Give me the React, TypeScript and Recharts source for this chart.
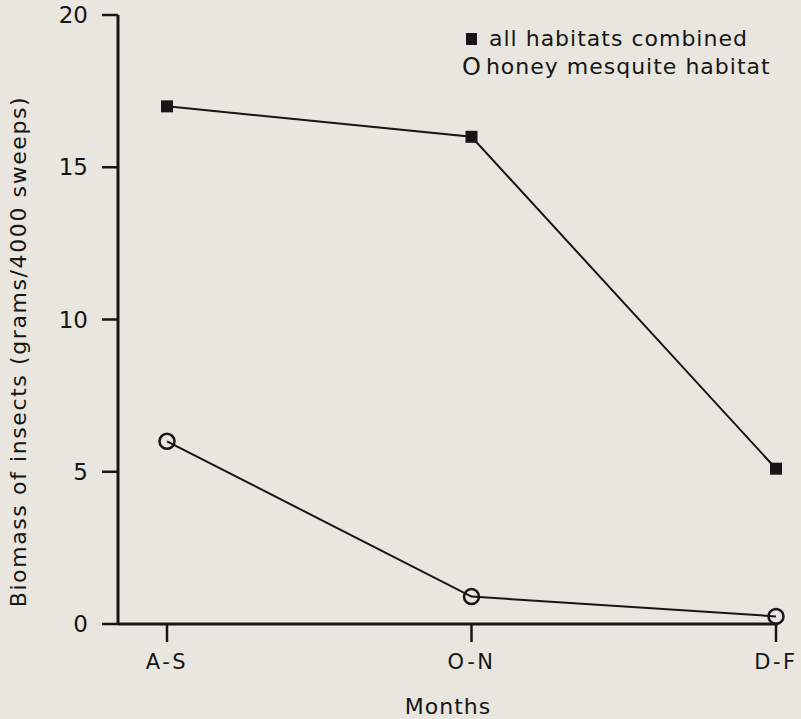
import React from 'react';
import {
  LineChart,
  Line,
  XAxis,
  YAxis,
  Label,
} from 'recharts';

const months = ['A-S', 'O-N', 'D-F'];
const allHabitats = [17, 16, 5.1];
const honeyMesquite = [6, 0.9, 0.25];
const yTicks = [0, 5, 10, 15, 20];

const data = months.map((m, i) => ({
  month: m,
  all: allHabitats[i],
  honey: honeyMesquite[i],
}));

const INK = '#161616';
const BG = '#e9e6e0';
const FONT = '"DejaVu Sans", sans-serif';

const SquareDot = (props: any) => {
  const { cx, cy } = props;
  if (cx == null || cy == null) return null;
  return <rect x={cx - 6} y={cy - 6} width={12} height={12} fill={INK} />;
};

const CircleDot = (props: any) => {
  const { cx, cy } = props;
  if (cx == null || cy == null) return null;
  return <circle cx={cx} cy={cy} r={7.5} fill="none" stroke={INK} strokeWidth={2.5} />;
};

// rotated y label, a bit below the middle of the plot like the original
const YLabel = (props: any) => {
  const { viewBox } = props;
  const x = 18;
  const y = viewBox.y + viewBox.height / 2 + 32;
  return (
    <text
      x={x}
      y={y}
      transform={`rotate(-90 ${x} ${y})`}
      textAnchor="middle"
      dominantBaseline="central"
      style={{ fill: INK, fontSize: 22, fontFamily: FONT, letterSpacing: 1.6 }}
    >
      Biomass of insects (grams/4000 sweeps)
    </text>
  );
};

const LegendBox = () => (
  <div
    style={{
      position: 'absolute',
      left: 462,
      top: 25,
      fontFamily: FONT,
      fontSize: 22,
      color: INK,
      letterSpacing: 1,
      lineHeight: '28px',
      whiteSpace: 'nowrap',
    }}
  >
    <div style={{ display: 'flex', alignItems: 'center' }}>
      <span style={{ display: 'inline-block', width: 11, height: 12, background: INK, marginLeft: 4, marginRight: 12 }} />
      all habitats combined
    </div>
    <div style={{ display: 'flex', alignItems: 'center' }}>
      <span style={{ fontSize: 24, marginRight: 4 }}>O</span>
      honey mesquite habitat
    </div>
  </div>
);

export default function App() {
  return (
    <div style={{ position: 'fixed', left: 0, top: 0, width: 801, height: 719, background: BG }}>
      <LineChart
        width={801}
        height={719}
        data={data}
        margin={{ top: 15, right: 23, bottom: 0, left: 0 }}
      >
        <XAxis
          dataKey="month"
          height={95}
          padding={{ left: 49, right: 2 }}
          axisLine={{ stroke: INK, strokeWidth: 3 }}
          tickLine={{ stroke: INK, strokeWidth: 2.5 }}
          tickSize={18}
          tickMargin={12}
          tick={{ fill: INK, fontSize: 21, fontFamily: FONT, letterSpacing: 2.5 }}
        >
          <Label
            value="Months"
            position="insideBottom"
            offset={5}
            style={{ fill: INK, fontSize: 22, fontFamily: FONT, letterSpacing: 1 }}
          />
        </XAxis>
        <YAxis
          width={118}
          domain={[0, 20]}
          ticks={yTicks}
          axisLine={{ stroke: INK, strokeWidth: 3 }}
          tickLine={{ stroke: INK, strokeWidth: 2.5 }}
          tickSize={16}
          tickMargin={14}
          tick={{ fill: INK, fontSize: 23, fontFamily: FONT }}
        >
          <Label content={<YLabel />} />
        </YAxis>
        <Line
          dataKey="all"
          stroke={INK}
          strokeWidth={2}
          dot={<SquareDot />}
          activeDot={false}
          isAnimationActive={false}
        />
        <Line
          dataKey="honey"
          stroke={INK}
          strokeWidth={2}
          dot={<CircleDot />}
          activeDot={false}
          isAnimationActive={false}
        />
      </LineChart>
      <LegendBox />
    </div>
  );
}
